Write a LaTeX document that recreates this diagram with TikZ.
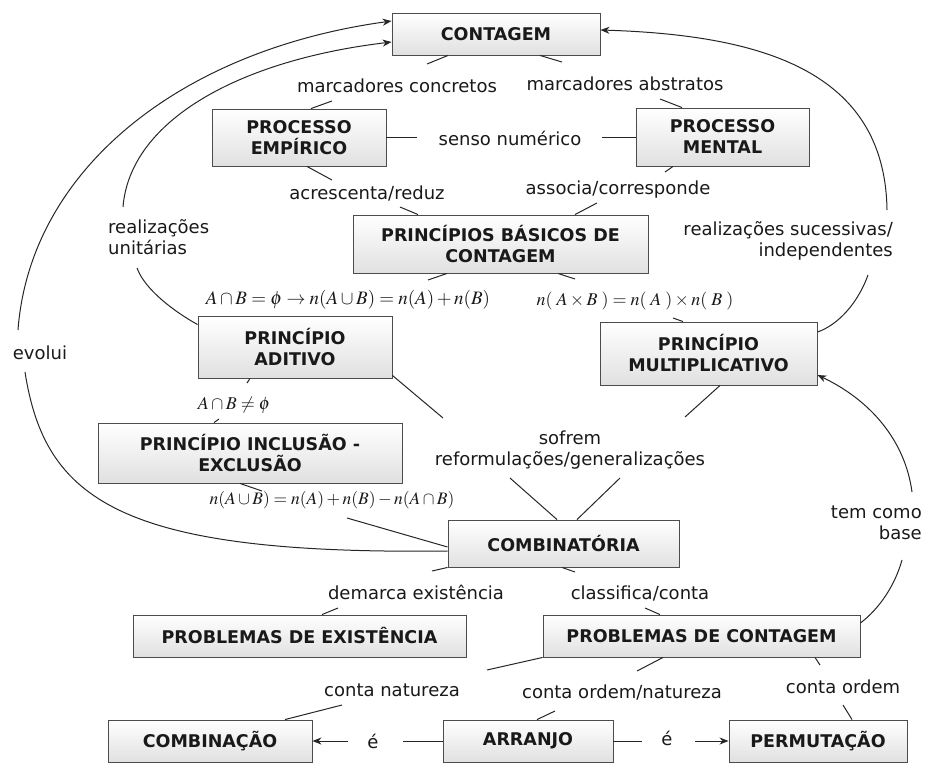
\documentclass[tikz,border=0pt]{standalone}
\usepackage{mathptmx}
\usepackage[no-math]{fontspec}
\setmainfont{DejaVu Sans}
\usetikzlibrary{arrows.meta}
\newcommand\mybxfont{\fontsize{17.5}{21}\selectfont\bfseries}
\newcommand\mylbfont{\fontsize{18}{21}\selectfont}
\newcommand\mymafont{\fontsize{18}{21}\selectfont}
\tikzset{
  box/.style={draw=black!70, line width=0.9pt, top color=white, bottom color=black!12,
    font=\mybxfont, align=center, inner sep=0pt, text=black!90},
  lbl/.style={font=\mylbfont, inner sep=0pt, text=black!90},
  mth/.style={font=\mymafont, inner sep=0pt, text=black!90},
  conn/.style={line width=1pt, draw=black!85},
  arr/.style={conn, -{Stealth[length=9pt,width=7pt]}},
}
\begin{document}
\begin{tikzpicture}[x=1pt,y=-1pt]
\useasboundingbox (0,0) rectangle (926,763);
% boxes
\node[box, minimum width=208pt, minimum height=42pt] (contagem) at (496,34) {CONTAGEM};
\node[box, minimum width=174pt, minimum height=57pt] (empirico) at (299,137.5) {PROCESSO\\EMPÍRICO};
\node[box, minimum width=173pt, minimum height=58pt] (mental) at (722.5,137) {PROCESSO\\MENTAL};
\node[box, minimum width=295pt, minimum height=58pt] (basicos) at (500.5,244) {PRINCÍPIOS BÁSICOS DE\\CONTAGEM};
\node[box, minimum width=194pt, minimum height=62pt] (aditivo) at (295,347) {PRINCÍPIO\\ADITIVO};
\node[box, minimum width=217pt, minimum height=63pt] (multi) at (708.5,353.5) {PRINCÍPIO\\MULTIPLICATIVO};
\node[box, minimum width=304pt, minimum height=60pt] (inclusao) at (250,453) {PRINCÍPIO INCLUSÃO -\\EXCLUSÃO};
\node[box, minimum width=231pt, minimum height=47pt] (combinatoria) at (563.5,543.5) {COMBINATÓRIA};
\node[box, minimum width=333pt, minimum height=42pt] (existencia) at (299.5,636) {PROBLEMAS DE EXISTÊNCIA};
\node[box, minimum width=317pt, minimum height=42pt] (probcont) at (701.5,636) {PROBLEMAS DE CONTAGEM};
\node[box, minimum width=204pt, minimum height=42pt] (combinacao) at (210,741) {COMBINAÇÃO};
\node[box, minimum width=170pt, minimum height=42pt] (arranjo) at (528,741) {ARRANJO};
\node[box, minimum width=178pt, minimum height=42pt] (permutacao) at (818,741) {PERMUTAÇÃO};
% labels
\node[lbl] (lmc) at (397,86) {marcadores concretos};
\node[lbl] (lma) at (625,84) {marcadores abstratos};
\node[lbl] (lsn) at (510,138) {senso numérico};
\node[lbl] (lar) at (367,193) {acrescenta/reduz};
\node[lbl] (las) at (618,190) {associa/corresponde};
\node[lbl, align=left, anchor=west] (lru) at (108,237) {realizações\\unitárias};
\node[lbl, align=right, anchor=east] (lrs) at (893,241) {realizações sucessivas/\\independentes};
\node[mth, font=\fontsize{19}{22}\selectfont] (lfa) at (348,300) {$A\cap B=\phi\to n(A\cup B)=n(A)+n(B)$};
\node[mth] (lfm) at (635,301) {$n(\;A\times B\;)=n(\;A\;)\times n(\;B\;)$};
\node[lbl] (lev) at (40,353) {evolui};
\node[mth] (lne) at (234,405) {$A\cap B\neq\phi$};
\node[mth, font=\fontsize{17.5}{21}\selectfont] (lfi) at (332,500) {$n(A\cup B)=n(A)+n(B)-n(A\cap B)$};
\node[lbl, align=center] (lsof) at (570,450) {sofrem\\reformulações/generalizações};
\node[lbl] (lde) at (416,592) {demarca existência};
\node[lbl] (lcc) at (640,593) {classifica/conta};
\node[lbl, align=right, anchor=east] (ltb) at (922,523) {tem como\\base};
\node[lbl] (lcn) at (392,690) {conta natureza};
\node[lbl] (lco) at (622,692) {conta ordem/natureza};
\node[lbl] (lor) at (843,687) {conta ordem};
\node[lbl] (le1) at (373,741) {é};
\node[lbl] (le2) at (667,738) {é};
% straight connectors
\draw[conn] ([xshift=-48pt]contagem.south) -- (427,64);
\draw[conn] (332,101) -- ([xshift=12pt]empirico.north);
\draw[conn] ([xshift=44pt]contagem.south) -- (562,62);
\draw[conn] (660,99) -- ([xshift=-40.5pt]mental.north);
\draw[conn] (empirico.east) -- (417,137.5);
\draw[conn] (602,137) -- (mental.west);
\draw[conn] ([xshift=8pt]empirico.south) -- (332,180);
\draw[conn] (400,207) -- ([xshift=-82.5pt]basicos.north);
\draw[conn] ([xshift=-49.5pt]mental.south) -- (665,172);
\draw[conn] (597,203) -- ([xshift=74.5pt]basicos.north);
\draw[conn] ([xshift=-53.5pt]basicos.south) -- (428,280);
\draw[conn] ([xshift=57.5pt]basicos.south) -- (575,279);
\draw[conn] (673,318) -- ([xshift=-25.5pt]multi.north);
\draw[conn] ([xshift=-45pt]aditivo.south) -- (247,383);
\draw[conn] (219,419) -- ([xshift=-36pt]inclusao.north);
\draw[conn] ([xshift=-10pt]inclusao.south) -- (262,491);
\draw[conn] (347,518) -- ([yshift=-3.5pt]combinatoria.west);
\draw[conn] ([yshift=3pt]aditivo.south east) -- (443,418);
\draw[conn] ([xshift=11.5pt]multi.south) -- (685,417);
\draw[conn] (510,478) -- ([xshift=-6.5pt]combinatoria.north);
\draw[conn] (620,478) -- ([xshift=13.5pt]combinatoria.north);
\draw[conn] (combinatoria.south west) -- (432,571);
\draw[conn] (338,608) -- ([xshift=22.5pt]existencia.north);
\draw[conn] ([xshift=-1.5pt]combinatoria.south) -- (575,572);
\draw[conn] (645,608) -- ([xshift=-41.5pt]probcont.north);
\draw[conn] (probcont.south west) -- (487,670);
\draw[conn] (342,705) -- ([xshift=75pt]combinacao.north);
\draw[conn] ([xshift=-38.5pt]probcont.south) -- (637,671);
\draw[conn] (555,711) -- ([xshift=9pt]arranjo.north);
\draw[conn] ([xshift=113.5pt]probcont.south) -- (820,665);
\draw[conn] (843,705) -- ([xshift=34pt]permutacao.north);
\draw[conn] (arranjo.west) -- (403,741);
\draw[arr] (348,741) -- (combinacao.east);
\draw[conn] (arranjo.east) -- (642,741);
\draw[arr] (695,741) -- (permutacao.west);
% curved connectors
\draw[arr] (18,330) .. controls (30,170) and (180,50) .. ([yshift=13pt]contagem.west);
\draw[conn] ([yshift=-7.5pt]combinatoria.west) .. controls (120,555) and (45,500) .. (25,372);
\draw[arr] (123,207) .. controls (130,120) and (240,60) .. ([yshift=-8pt]contagem.west);
\draw[conn] ([yshift=-9pt]aditivo.north west) .. controls (175,312) and (145,290) .. (137,268);
\draw[arr] (887,210) .. controls (885,70) and (760,35) .. ([yshift=4pt]contagem.east);
\draw[conn] ([yshift=21.5pt]multi.east) .. controls (838,325) and (858,303) .. (868,275);
\draw[arr] (912,492) .. controls (905,440) and (870,400) .. ([yshift=-21.5pt]multi.east);
\draw[conn] ([yshift=13pt]probcont.east) .. controls (880,608) and (895,585) .. (902,560);
\end{tikzpicture}
\end{document}
